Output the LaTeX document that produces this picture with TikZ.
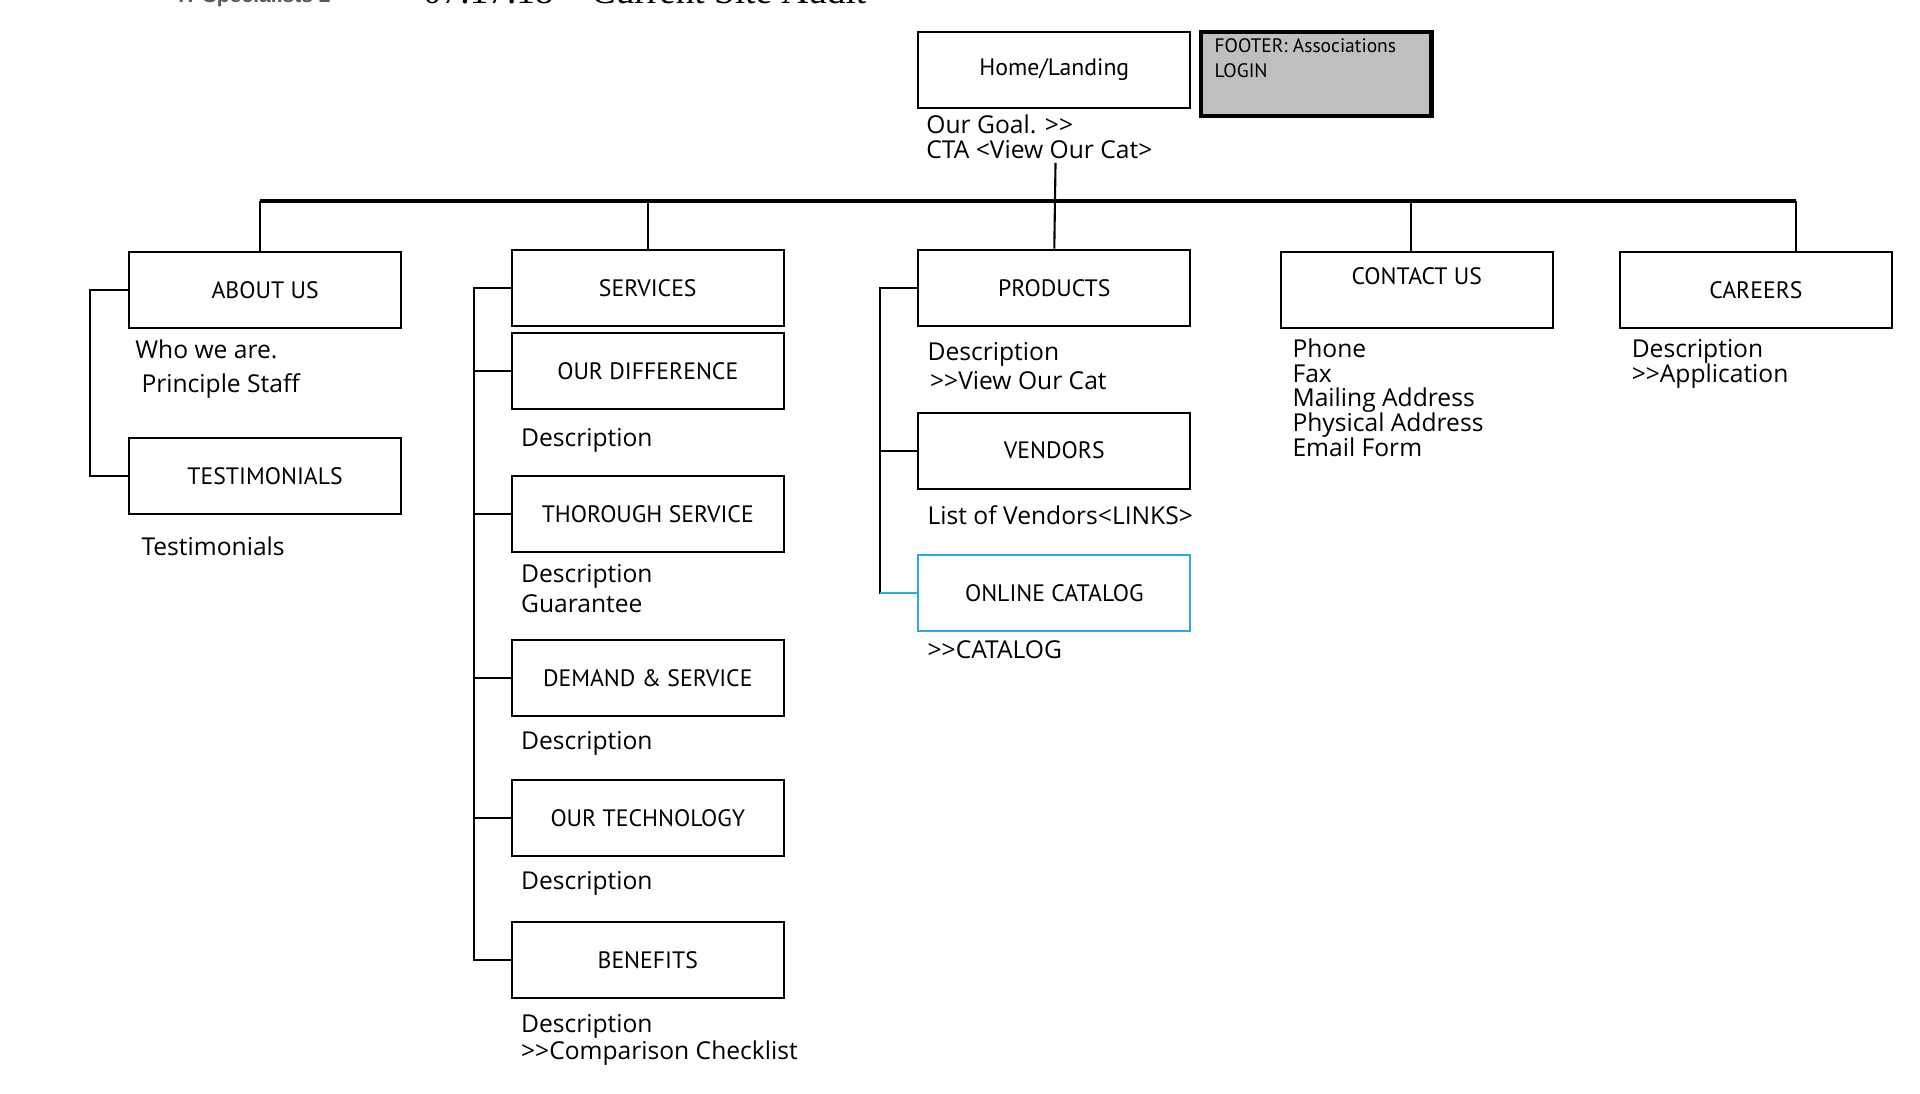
\documentclass[tikz,border=0pt]{standalone}
\usepackage{fontspec}
\setmainfont{Open Sans}
\newfontfamily\labelfont{PT Sans}
\newfontfamily\titlefont{Liberation Serif}
\newfontfamily\headfont{Liberation Sans}
\usetikzlibrary{positioning}
\definecolor{footergray}{RGB}{190,191,193}
\definecolor{catblue}{RGB}{41,171,226}

\begin{document}
\begin{tikzpicture}[x=0.012245cm, y=-0.012245cm,
    page box/.style={draw, line width=0.6pt, minimum width=2.72cm, minimum height=0.76cm,
      inner sep=0pt, font=\labelfont\fontsize{6.75}{7}\selectfont},
    info/.style={anchor=base west, align=left, inner sep=0pt, yshift=-0.5pt,
      font={\fontsize{7}{7}\selectfont\lineskiplimit=-5pt}},
    footer text/.style={anchor=north west, align=left, inner sep=0pt,
      font={\labelfont\fontsize{5.55}{7}\selectfont\lineskiplimit=-5pt}},
    link/.style={line width=0.6pt},
    bus/.style={line width=1pt}]
  \useasboundingbox (0,0) rectangle (1568,893.4);

  % header, cut off at the top
  \node[anchor=base west, inner sep=0pt, font=\headfont\bfseries\fontsize{6}{7}\selectfont, text=black!65] (client) at (145,2) {IT Specialists 2};
  \node[anchor=base west, inner sep=0pt, font=\titlefont\fontsize{10.6}{12}\selectfont] (title) at (345,2.7) {07.17.18 – Current Site Audit};

  % home
  \node[page box] (home) at (861,57) {Home/Landing};
  \node[page box, fill=footergray, line width=1.2pt, minimum width=2.3cm, minimum height=0.845cm] (footer) at (1075,60.5) {};
  \node[footer text, below right=2.4pt and 4.2pt of footer.north west] (footerlines) {FOOTER: Associations\\LOGIN};
  \node[info] (goal) at (756,128) {Our Goal. >{}>\\CTA <View Our Cat>};
  \coordinate (goalfoot) at (862,133);

  % first level
  \node[page box] (about) at (216.5,237) {ABOUT US};
  \node[page box] (services) at (529,235) {SERVICES};
  \node[page box] (products) at (861,235) {PRODUCTS};
  \node[page box, text depth=8pt] (contact) at (1157,237) {CONTACT US};
  \node[page box] (careers) at (1434,237) {CAREERS};

  % about us
  \node[info] (who) at (110,291) {Who we are.};
  \node[info] (staff) at (115,319) {Principle Staff};
  \node[page box] (testi) at (216.5,388.5) {TESTIMONIALS};
  \node[info] (testitext) at (115,452) {Testimonials};

  % services
  \node[page box] (diff) at (529,303) {OUR DIFFERENCE};
  \node[info] (diffdesc) at (425,363) {Description};
  \node[page box] (thorough) at (529,420) {THOROUGH SERVICE};
  \node[info] (thoroughdesc) at (425,499) {Description\\[1.75pt]Guarantee};
  \node[page box] (demand) at (529,553.5) {DEMAND \& SERVICE};
  \node[info] (demanddesc) at (425,611) {Description};
  \node[page box] (tech) at (529,668) {OUR TECHNOLOGY};
  \node[info] (techdesc) at (425,725) {Description};
  \node[page box] (benefits) at (529,784) {BENEFITS};
  \node[info] (benefitsdesc) at (425,864) {Description\\[0.7pt]>{}>Comparison Checklist};

  % products
  \node[info] (productsdesc) at (757,317) {Description\\[1.4pt]\hspace{0.7pt}>{}>View Our Cat};
  \node[page box] (vendors) at (861,368) {VENDORS};
  \node[info] (vendorsdesc) at (757,427) {List of Vendors<LINKS>};
  \node[page box, draw=catblue] (catalog) at (861,484.5) {ONLINE CATALOG};
  \node[info] (catalogdesc) at (757,536) {>{}>CATALOG};

  % contact, careers
  \node[info] (contactdesc) at (1055,371) {Phone\\Fax\\Mailing Address\\Physical Address\\Email Form};
  \node[info] (careersdesc) at (1332,311) {Description\\>{}>Application};

  % tree
  \coordinate (busleft) at (212,164);
  \coordinate (busright) at (1467,164);
  \coordinate (contactdrop) at (1152,164);
  \draw[bus] (busleft) -- (busright);
  \draw[link] (busleft) -- (busleft |- about.north);
  \draw[link] (services.north |- busleft) -- (services.north);
  \draw[link] (goalfoot) -- (products.north);
  \draw[link] (contactdrop) -- (contactdrop |- contact.north);
  \draw[link] (busright) -- (busright |- careers.north);

  % side rails
  \draw[link] (about.west) -- ++(-31,0) |- (testi.west);
  \draw[link] (services.west) -- ++(-30,0) |- (benefits.west);
  \foreach \n in {diff,thorough,demand,tech}
    \draw[link] (\n.west) -- ++(-30,0);
  \draw[link] (products.west) -- ++(-30,0) |- (catalog.west);
  \draw[link] (vendors.west) -- ++(-30,0);
  \draw[link, draw=catblue] (catalog.west) -- ++(-30,0);
\end{tikzpicture}
\end{document}
